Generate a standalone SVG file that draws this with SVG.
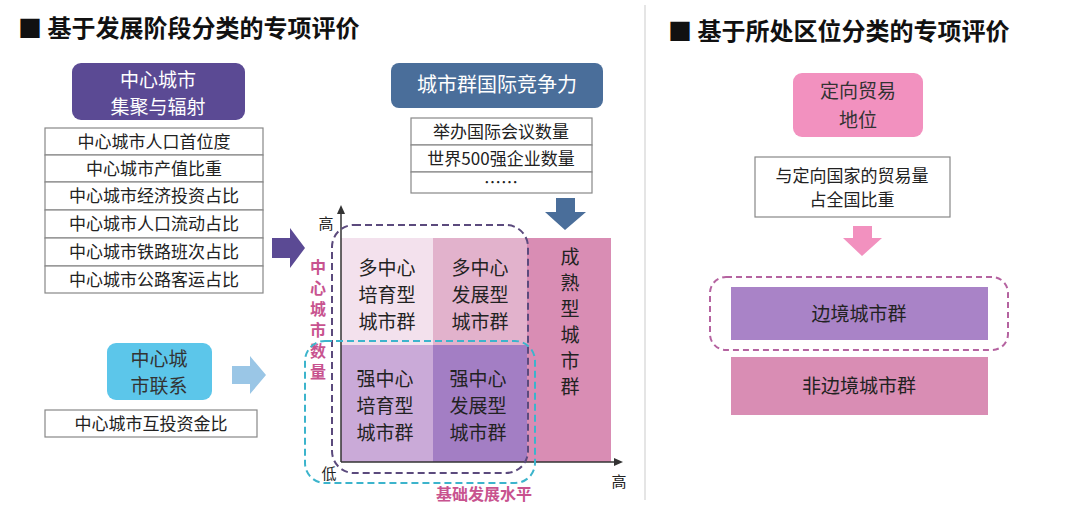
<svg xmlns="http://www.w3.org/2000/svg" width="1080" height="518" viewBox="0 0 1080 518">
<style>
text{font-family:"Noto Sans CJK SC","Liberation Sans",sans-serif;text-anchor:middle}
.t{font-size:24px;font-weight:bold;text-anchor:start;fill:#111}
.w{fill:#fff;font-size:19px}
.c{font-size:17px;fill:#222}
.m{font-size:19px;fill:#222}
.row{fill:#fff;stroke:#888;stroke-width:1.2}
.p{fill:#c8538f;font-size:16px;font-weight:bold}
.a{font-size:15px;fill:#222}
</style>
<rect width="1080" height="518" fill="#fff"/>
<line x1="645" y1="5" x2="645" y2="500" stroke="#ddd" stroke-width="1.5"/>
<text class="t" x="18" y="37">■ 基于发展阶段分类的专项评价</text>
<text class="t" x="668" y="40">■ 基于所处区位分类的专项评价</text>

<g id="n-jiju">
<rect x="72" y="63" width="173" height="57" rx="9" fill="#5b4a94"/>
<text class="w" x="158" y="87">中心城市</text><text class="w" x="158" y="114">集聚与辐射</text>
</g>
<g id="n-jiju-table">
<rect class="row" x="45" y="128" width="218" height="27"/><text class="c" x="154" y="148">中心城市人口首位度</text>
<rect class="row" x="45" y="155" width="218" height="27"/><text class="c" x="154" y="175">中心城市产值比重</text>
<rect class="row" x="45" y="182" width="218" height="28"/><text class="c" x="154" y="202">中心城市经济投资占比</text>
<rect class="row" x="45" y="210" width="218" height="28"/><text class="c" x="154" y="230">中心城市人口流动占比</text>
<rect class="row" x="45" y="238" width="218" height="28"/><text class="c" x="154" y="258">中心城市铁路班次占比</text>
<rect class="row" x="45" y="266" width="218" height="27"/><text class="c" x="154" y="286">中心城市公路客运占比</text>
</g>
<g id="n-lianxi">
<rect x="107" y="343" width="105" height="57" rx="9" fill="#5cc6ea"/>
<text class="w" x="159" y="366" style="fill:#333">中心城</text><text class="w" x="159" y="393" style="fill:#333">市联系</text>
</g>
<g id="n-lianxi-table">
<rect class="row" x="45" y="410" width="212" height="27"/><text class="c" x="151" y="430">中心城市互投资金比</text>
</g>
<g id="n-jingzheng">
<rect x="391" y="63" width="212" height="45" rx="8" fill="#4a6e9a"/>
<text class="w" x="497" y="92" style="font-size:20px">城市群国际竞争力</text>
</g>
<g id="n-jingzheng-table">
<rect class="row" x="411" y="118" width="181" height="27"/><text class="c" x="501" y="138">举办国际会议数量</text>
<rect class="row" x="411" y="145" width="181" height="27"/><text class="c" x="501" y="165">世界500强企业数量</text>
<rect class="row" x="411" y="172" width="181" height="21"/><text class="c" x="501" y="189">……</text>
</g>

<g id="matrix">
<rect x="341" y="238" width="92" height="107" fill="#f3e1ed"/>
<rect x="433" y="238" width="94" height="107" fill="#e2b2cc"/>
<rect x="341" y="345" width="92" height="117" fill="#caaad8"/>
<rect x="433" y="345" width="94" height="117" fill="#a37ec4"/>
<rect x="527" y="238" width="84" height="224" fill="#d98db4"/>
<g class="m">
<text x="387" y="275">多中心</text><text x="387" y="302">培育型</text><text x="387" y="329">城市群</text>
<text x="480" y="275">多中心</text><text x="480" y="302">发展型</text><text x="480" y="329">城市群</text>
<text x="385" y="386">强中心</text><text x="385" y="413">培育型</text><text x="385" y="440">城市群</text>
<text x="478" y="386">强中心</text><text x="478" y="413">发展型</text><text x="478" y="440">城市群</text>
<text x="570" y="325" style="writing-mode:vertical-rl;letter-spacing:7px">成熟型城市群</text>
</g>
<text class="a" x="326" y="229">高</text>
<text class="a" x="329" y="479">低</text>
<text class="a" x="619" y="487">高</text>
<text class="p" x="318" y="322" style="writing-mode:vertical-rl;letter-spacing:5px">中心城市数量</text>
<text class="p" x="484" y="500">基础发展水平</text>
</g>

<g id="n-maoyi">
<rect x="793" y="73" width="130" height="64" rx="9" fill="#f291bf"/>
<text class="w" x="858" y="98" style="fill:#333">定向贸易</text><text class="w" x="858" y="127" style="fill:#333">地位</text>
</g>
<g id="n-maoyi-table">
<rect class="row" x="755" y="157" width="195" height="60"/>
<text class="c" x="852" y="182">与定向国家的贸易量</text><text class="c" x="852" y="206">占全国比重</text>
</g>
<g id="n-bianjing">
<rect x="731" y="287" width="257" height="53" fill="#a983c7"/>
<text class="m" x="859" y="321">边境城市群</text>
</g>
<g id="n-feibianjing">
<rect x="731" y="357" width="257" height="58" fill="#d98db4"/>
<text class="m" x="859" y="393">非边境城市群</text>
</g>

<g id="connectors">
<polygon points="272,238 290,238 290,228 305,248 290,268 290,258 272,258" fill="#5b4a94"/>
<polygon points="232,366 250,366 250,356 266,375 250,394 250,384 232,384" fill="#9ac6e6"/>
<polygon points="556,198 575,198 575,212 586,212 565,230 545,212 556,212" fill="#4a6e9a"/>
<polygon points="853,226 872,226 872,238 882,238 862,256 843,238 853,238" fill="#f291bf"/>
<line x1="341" y1="462" x2="341" y2="210" stroke="#333" stroke-width="1.5"/>
<polygon points="341,205 337,214 345,214" fill="#333"/>
<line x1="341" y1="462" x2="617" y2="462" stroke="#333" stroke-width="1.5"/>
<polygon points="623,462 614,458 614,466" fill="#333"/>
<rect x="332" y="225" width="196" height="248" rx="22" fill="none" stroke="#5b4a7d" stroke-width="2" stroke-dasharray="7,4"/>
<rect x="305" y="341" width="230" height="142" rx="20" fill="none" stroke="#3cb4cc" stroke-width="2" stroke-dasharray="7,4"/>
<rect x="710" y="277" width="298" height="73" rx="16" fill="none" stroke="#b563a0" stroke-width="2" stroke-dasharray="6,4"/>
</g>
</svg>
